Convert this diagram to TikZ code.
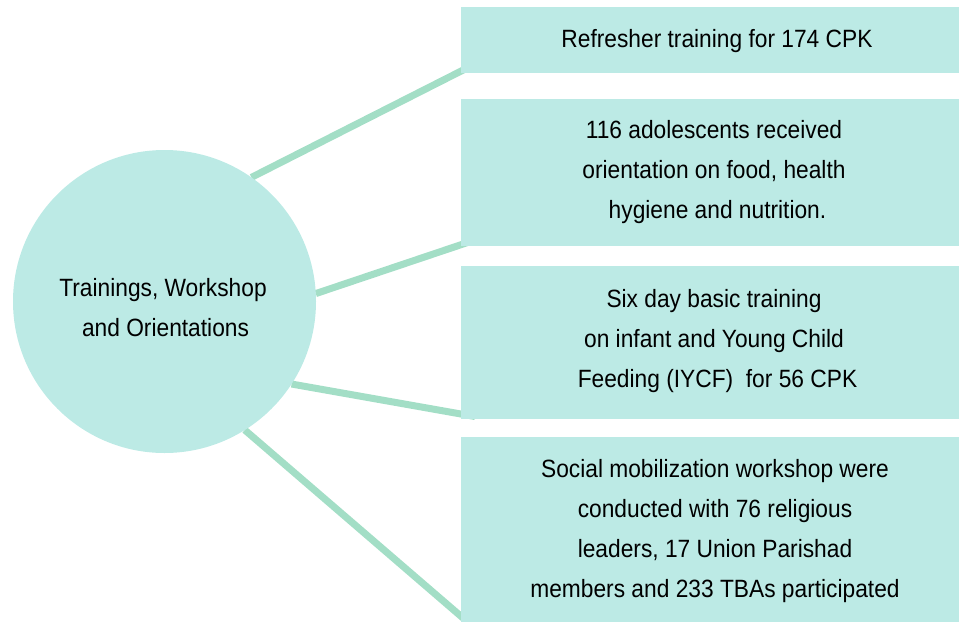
\documentclass[tikz,border=0pt]{standalone}
\usepackage{fontspec}
\setmainfont{Liberation Sans}[FakeStretch=0.91]
\usetikzlibrary{calc,backgrounds}
\definecolor{boxfill}{HTML}{BCEAE5}
\definecolor{linkcol}{HTML}{A3DEC6}
\begin{document}
\begin{tikzpicture}[x=1pt,y=-1pt,
  boxnode/.style={rectangle, fill=boxfill, draw=none, inner sep=0pt, outer sep=0pt},
  hub/.style={circle, fill=boxfill, draw=none, minimum size=303pt, inner sep=0pt, outer sep=0pt},
  txt/.style={align=center, font=\fontsize{25}{40}\selectfont, inner sep=0pt, text=black},
  link/.style={draw=linkcol, line width=7pt}]
\useasboundingbox (0,0) rectangle (959,622);
% hub and boxes
\node[hub] (c) at (164.5,301.5) {};
\node[boxnode, minimum width=498pt, minimum height=66pt]  (b1) at (710,40) {};
\node[boxnode, minimum width=498pt, minimum height=147pt] (b2) at (710,172.5) {};
\node[boxnode, minimum width=498pt, minimum height=153pt] (b3) at (710,342.5) {};
\node[boxnode, minimum width=498pt, minimum height=185pt] (b4) at (710,529.5) {};
% texts
\node[txt] (tc) at (163,307.6) {Trainings, Workshop\\\hspace*{5pt}and Orientations};
\node[txt] (t1) at (717,41.4) {Refresher training for 174 CPK};
\node[txt] (t2) at (714,172.5) {116 adolescents received\\orientation on food, health\\\hspace*{7pt}hygiene and nutrition.};
\node[txt] (t3) at (714,341.5) {Six day basic training\\on infant and Young Child\\\hspace*{7pt}Feeding (IYCF)~ for 56 CPK};
\node[txt] (t4) at (715,531.5) {Social mobilization workshop were\\conducted with 76 religious\\leaders, 17 Union Parishad\\members and 233 TBAs participated};
% connectors
\begin{scope}[on background layer]
\draw[link] (c.55)  -- ($(b1.south west)+(14,-9)$);
\draw[link] (c.3)   -- ($(b2.south west)+(14,-6)$);
\draw[link] (c.-33) -- ($(b3.south west)+(14,-2.5)$);
\draw[link] (c.-58) -- ($(b4.south west)+(2,-4)$);
\end{scope}
\end{tikzpicture}
\end{document}
